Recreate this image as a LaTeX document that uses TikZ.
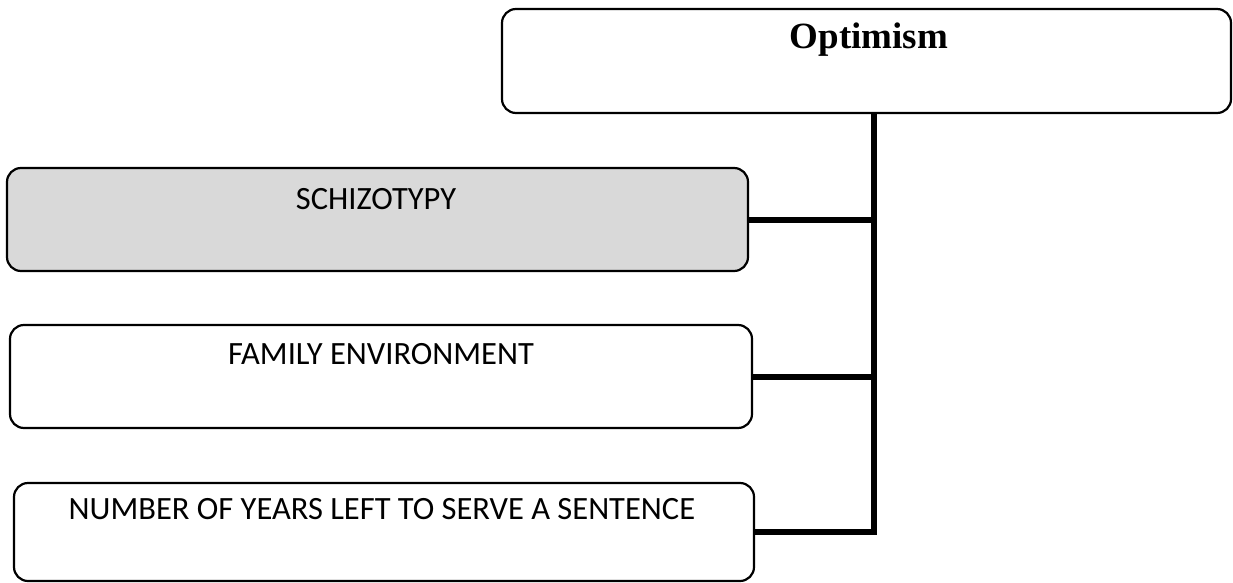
\documentclass[tikz,border=0pt]{standalone}
\usepackage{fontspec}
\setmainfont{Liberation Serif}
\newfontfamily\calib{Carlito}
\begin{document}
\begin{tikzpicture}[x=1pt,y=-1pt,
  box/.style={draw=black, line width=2.2pt, rounded corners=14pt, fill=white},
  shaded/.style={box, fill=black!15},
  conn/.style={draw=black, line width=6pt},
  lbl/.style={font=\calib\fontsize{32.5}{36}\selectfont, inner sep=0pt},
  ttl/.style={font=\bfseries\fontsize{37}{42}\selectfont, inner sep=0pt}]
\useasboundingbox (0,0) rectangle (1233,583);
% boxes
\draw[box] (502,9) rectangle (1231,113);
\node[inner sep=0pt, minimum width=729pt, minimum height=104pt] (opt) at (866.5,61) {};
\draw[shaded] (7,168) rectangle (748,271);
\node[inner sep=0pt, minimum width=741pt, minimum height=103pt] (sch) at (377.5,219.5) {};
\draw[box] (10,325) rectangle (752,428);
\node[inner sep=0pt, minimum width=742pt, minimum height=103pt] (fam) at (381,376.5) {};
\draw[box] (14,483) rectangle (754,581);
\node[inner sep=0pt, minimum width=740pt, minimum height=98pt] (num) at (384,532) {};
% texts
\node[ttl] (optt) at (869,40) {Optimism};
\node[lbl] (scht) at (376,199) {SCHIZOTYPY};
\node[lbl] (famt) at (381,354) {FAMILY ENVIRONMENT};
\node[lbl] (numt) at (382,509) {NUMBER OF YEARS LEFT TO SERVE A SENTENCE};
% connectors
\coordinate (bx) at (874,0);
\draw[conn] (opt.south -| bx) -- (num.east -| bx) -- (num.east);
\draw[conn] (sch.east) -- (sch.east -| bx);
\draw[conn] (fam.east) -- (fam.east -| bx);
\end{tikzpicture}
\end{document}
